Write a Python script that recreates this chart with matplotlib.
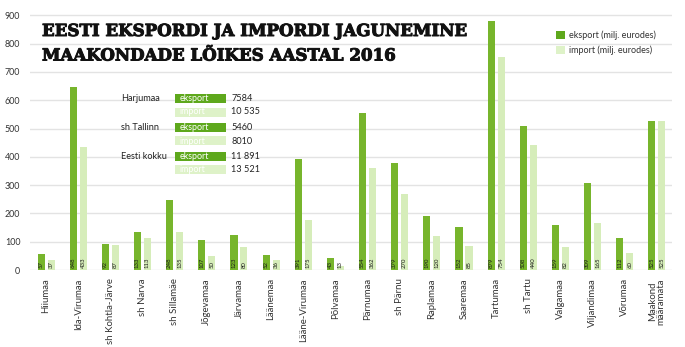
import matplotlib
matplotlib.use("Agg")
import matplotlib.pyplot as plt
from matplotlib.patches import Rectangle
import matplotlib.patheffects as pe
import numpy as np

categories = ["Hiiumaa", "Ida-Virumaa", "sh Kohtla-Järve", "sh Narva", "sh Sillamäe",
              "Jõgevamaa", "Järvamaa", "Läänemaa", "Lääne-Virumaa", "Põlvamaa",
              "Pärnumaa", "sh Pärnu", "Raplamaa", "Saaremaa", "Tartumaa", "sh Tartu",
              "Valgamaa", "Viljandimaa", "Võrumaa", "Maakond\nmääramata"]
eksport = [57, 648, 92, 133, 248, 107, 123, 52, 391, 43, 554, 379, 190, 152, 879, 508, 159, 309, 112, 525]
import_ = [37, 433, 87, 113, 135, 50, 80, 36, 175, 13, 362, 270, 120, 85, 754, 440, 82, 165, 60, 525]
yticks = [0, 100, 200, 300, 400, 500, 600, 700, 800, 900]

table_labels = ["Harjumaa", "sh Tallinn", "Eesti kokku"]
table_eksport = ["7584", "5460", "11 891"]
table_import = ["10 535", "8010", "13 521"]

C_EXP = "#77b52c"
C_IMP = "#d6edba"
C_BOX_EXP = "#5ea81c"
C_BOX_IMP = "#def2c8"
TXT = "#333333"

W, H = 685, 347
fig = plt.figure(figsize=(6.85, 3.47), dpi=100)
plt.rcParams['font.family'] = ['Lato', 'DejaVu Sans']

def fx(px):
    return px / W

def fy(py):
    return 1 - py / H

ax = fig.add_axes([fx(30), fy(270), fx(672) - fx(30), fy(13.9) - fy(270)])
x = np.arange(len(categories))
bw = 0.22
off = 0.155
ax.bar(x - off, eksport, width=bw, color=C_EXP, zorder=2)
ax.bar(x + off, import_, width=bw, color=C_IMP, zorder=2)

for xi, v in zip(x, eksport):
    ax.text(xi - off, 6, str(v), rotation=90, ha='center', va='bottom', fontsize=4.3,
            color='#1a1a1a', zorder=3,
            bbox=dict(boxstyle='square,pad=0.05', fc=C_EXP, ec='none'))
for xi, v in zip(x, import_):
    ax.text(xi + off, 6, str(v), rotation=90, ha='center', va='bottom', fontsize=4.3,
            color='#1a1a1a', zorder=3)

ax.set_xlim(-0.5, 19.47)
ax.set_ylim(0, 905)
ax.set_yticks(yticks)
ax.set_yticklabels([str(t) for t in yticks], fontsize=6.4, color=TXT)
ax.yaxis.grid(True, color="#e3e3e3", lw=1, zorder=0)
ax.set_axisbelow(True)
ax.set_xticks(x)
ax.set_xticklabels(categories, rotation=90, fontsize=6.9, color=TXT, va='top', ha='center',
                   linespacing=0.95)
ax.tick_params(axis='both', length=0)
ax.tick_params(axis='y', pad=7)
ax.tick_params(axis='x', pad=6)
for s in ax.spines.values():
    s.set_visible(False)

# title
stroke = [pe.withStroke(linewidth=0.7, foreground='#111111')]
fig.text(fx(42), fy(31.5), "EESTI EKSPORDI JA IMPORDI JAGUNEMINE", family='DejaVu Serif',
         weight='bold', fontsize=12.0, color='#111111', va='center', ha='left', path_effects=stroke)
fig.text(fx(42), fy(56), "MAAKONDADE LÕIKES AASTAL 2016", family='DejaVu Serif',
         weight='bold', fontsize=12.0, color='#111111', va='center', ha='left', path_effects=stroke)

# legend
for py, lab, c in [(35, "eksport (milj. eurodes)", C_BOX_EXP), (50, "import (milj. eurodes)", C_BOX_IMP)]:
    fig.patches.append(Rectangle((fx(556), fy(py + 4)), fx(9), 8 / H, transform=fig.transFigure,
                                 fc=c, ec='none', zorder=5))
    fig.text(fx(569), fy(py), lab, fontsize=6.5, color=TXT, va='center', ha='left')

# inset table
rows_y = [(98.5, 112), (127.5, 141), (156.5, 169.5)]
for (ye, yi), lab, ve, vi in zip(rows_y, table_labels, table_eksport, table_import):
    fig.text(fx(121), fy(ye), lab, fontsize=6.6, color='#222222', va='center', ha='left')
    for yy, c, t, v in [(ye, C_BOX_EXP, "eksport", ve), (yi, C_BOX_IMP, "import", vi)]:
        fig.patches.append(Rectangle((fx(175), fy(yy + 4.5)), fx(51), 9 / H, transform=fig.transFigure,
                                     fc=c, ec='none', zorder=5))
        fig.text(fx(180), fy(yy), t, fontsize=6.4, color='white', va='center', ha='left', zorder=6)
        fig.text(fx(231), fy(yy), v, fontsize=6.6, color='#222222', va='center', ha='left')

fig.savefig("out.png", dpi=100, facecolor='white')
